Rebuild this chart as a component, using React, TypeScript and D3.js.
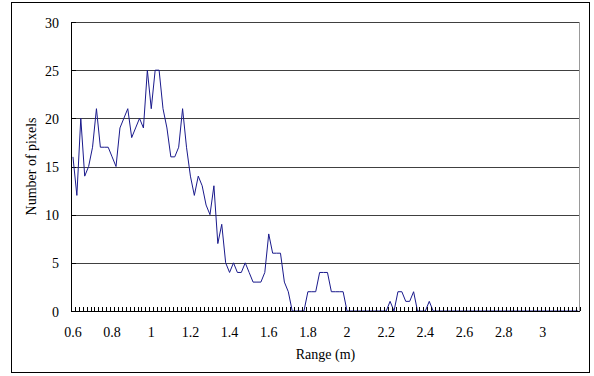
import React from 'react';
import * as d3 from 'd3';

// pixel counts per range bin (0.60 m .. 3.18 m, step 0.02 m)
const counts = [
  16, 12, 20, 14, 15, 17, 21, 17, 17, 17,
  16, 15, 19, 20, 21, 18, 19, 20, 19, 25,
  21, 25, 25, 21, 19, 16, 16, 17, 21, 17,
  14, 12, 14, 13, 11, 10, 13, 7, 9, 5,
  4, 5, 4, 4, 5, 4, 3, 3, 3, 4,
  8, 6, 6, 6, 3, 2, 0, 0, 0, 0,
  2, 2, 2, 4, 4, 4, 2, 2, 2, 2,
  0, 0, 0, 0, 0, 0, 0, 0, 0, 0,
  0, 1, 0, 2, 2, 1, 1, 2, 0, 0,
  0, 1, 0, 0, 0, 0, 0, 0, 0, 0,
  0, 0, 0, 0, 0, 0, 0, 0, 0, 0,
  0, 0, 0, 0, 0, 0, 0, 0, 0, 0,
  0, 0, 0, 0, 0, 0, 0, 0, 0, 0,
];
const ranges = counts.map((_, i) => +(0.6 + i * 0.02).toFixed(2));
const yTicks = [0, 5, 10, 15, 20, 25, 30];

const FONT = '"Liberation Serif", "Times New Roman", serif';

const App = () => {
  const width = 594;
  const height = 376;
  const left = 71, right = 580, top = 22, bottom = 311;

  const x = d3.scaleBand<number>()
    .domain(ranges.map((_, i) => i))
    .range([left, right])
    .padding(0);
  const bw = x.bandwidth();
  const y = d3.scaleLinear().domain([0, 30]).range([bottom, top]);

  const line = d3.line<number>()
    .x((_, i) => (x(i) as number) + bw / 2)
    .y(d => y(d));

  const boundaries = d3.range(ranges.length + 1).map(i => left + i * bw);

  return (
    <svg width={width} height={height}
      style={{ position: 'absolute', left: 0, top: 0, background: '#fff' }}
      fontFamily={FONT}>
      <rect x={11.5} y={2.5} width={578} height={370} fill="#fff" stroke="#000" strokeWidth={1} />

      {yTicks.filter(t => t > 0).map(t => (
        <line key={'g' + t} x1={left} x2={right} y1={Math.round(y(t)) + 0.5} y2={Math.round(y(t)) + 0.5}
          stroke="#404040" strokeWidth={1} />
      ))}
      <line x1={right - 0.5} x2={right - 0.5} y1={top} y2={bottom} stroke="#999" />

      {yTicks.map(t => (
        <line key={'yt' + t} x1={left} x2={left + 5} y1={Math.round(y(t)) + 0.5} y2={Math.round(y(t)) + 0.5}
          stroke="#000" />
      ))}
      {yTicks.map(t => (
        <text key={'yl' + t} x={59} y={y(t) + 5.5} textAnchor="end" fontSize={14} fill="#000">{t}</text>
      ))}

      <path d={line(counts) || ''} fill="none" stroke="#1a1a8c" strokeWidth={1} />

      {boundaries.map((bx, i) => (
        <line key={'xt' + i} x1={Math.round(bx) + 0.5} x2={Math.round(bx) + 0.5} y1={bottom - 4} y2={bottom}
          stroke="#000" />
      ))}
      <line x1={left} x2={right} y1={bottom + 0.5} y2={bottom + 0.5} stroke="#000" />
      <line x1={left + 0.5} x2={left + 0.5} y1={top} y2={bottom} stroke="#000" />

      {ranges.map((r, i) => i % 10 === 0 ? (
        <text key={'xl' + i} x={(x(i) as number) + bw / 2} y={337} textAnchor="middle" fontSize={14} fill="#000">
          {String(r)}
        </text>
      ) : null)}

      <text x={(left + right) / 2} y={359} textAnchor="middle" fontSize={14} fill="#000">Range (m)</text>
      <text transform={`translate(36,${(top + bottom) / 2}) rotate(-90)`} textAnchor="middle" fontSize={14} fill="#000">
        Number of pixels
      </text>
    </svg>
  );
};

export default App;
